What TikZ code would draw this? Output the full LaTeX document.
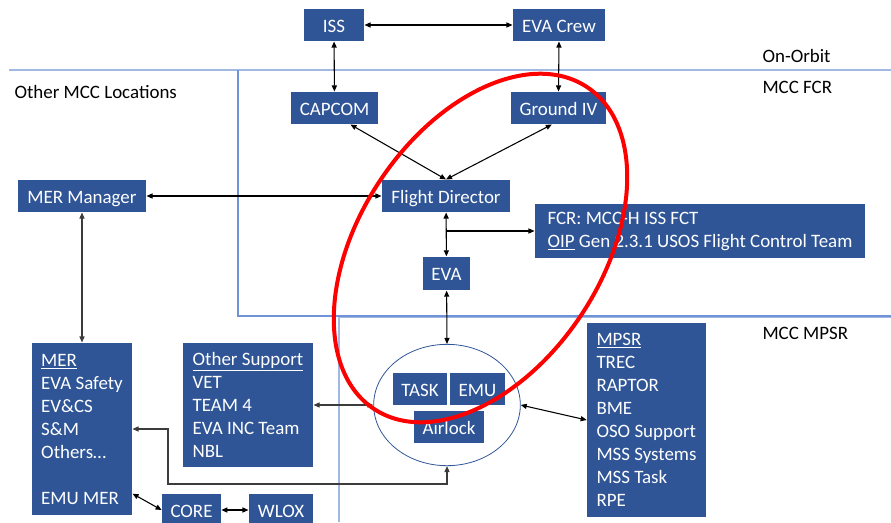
\documentclass[tikz,border=0pt]{standalone}
\usepackage{fontspec}
\setmainfont{Carlito}
\usepackage{tikz}
\usetikzlibrary{arrows.meta, positioning, shapes.geometric}
\definecolor{boxblue}{RGB}{47,85,151}
\definecolor{sepblue}{RGB}{160,184,226}
\definecolor{fcrblue}{RGB}{112,146,214}
\definecolor{lnkgray}{RGB}{60,60,60}
\tikzset{>={Triangle[length=4.5pt,width=3.8pt]}}
\tikzset{
  box/.style={fill=boxblue, text=white, inner sep=0pt, minimum height=24pt,
    text height=12pt, text depth=1pt, font=\fontsize{14.2}{17.25}\selectfont},
  listbox/.style={fill=boxblue, text=white, inner sep=0pt, align=left,
    font=\fontsize{14.2}{17.25}\selectfont},
  place/.style={anchor=west, inner sep=0pt, font=\fontsize{14.2}{17.25}\selectfont}
}

\begin{document}
\begin{tikzpicture}[x=0.75pt, y=-0.75pt, line width=0.8pt]
		\useasboundingbox (0,0) rectangle (891,522);
		% regions
		\draw[sepblue, line width=1.3pt] (9,70) -- (891,70);
		\draw[fcrblue, line width=0.8pt] (238,70) -- (238,316) -- (891,316);
		\draw[sepblue, line width=1.3pt] (339,522) -- (339,317.5) -- (891,317.5);
		\node[place] at (762,56) {On-Orbit};
		\node[place] at (762,87) {MCC FCR};
		\node[place] at (762,333) {MCC MPSR};
		\node[place] at (14,92) {Other MCC Locations};
		
		\node[box, minimum width=45pt] (ISS) at (334,25) {ISS};
		\node[box, minimum width=69pt] (Crew) at (559,25) {EVA Crew};
		\node[box, minimum width=65pt] (CAPCOM) at (334.5,108) {CAPCOM};
		\node[box, minimum width=71pt] (GIV) at (558.5,108) {Ground IV};
		\node[box, minimum width=96pt] (FD) at (446,196) {Flight Director};
		\node[box, minimum width=96pt] (MERM) at (82,196) {MER Manager};
		\node[listbox, minimum width=247.5pt, minimum height=40.5pt] (FCR) at (700,231)
			{FCR: MCC-H ISS FCT\\\underline{OIP} Gen 2.3.1 USOS Flight Control Team};
		\node[box, minimum width=35pt, minimum height=25pt] (EVA) at (446.5,273.5) {EVA};
		
		\node[draw=boxblue, ellipse, line width=0.6pt, inner sep=0pt,
			minimum width=110pt, minimum height=91pt] (Ops) at (447,405) {};
		\node[box, minimum width=40.5pt] (TASK) at (420,389) {TASK};
		\node[box, minimum width=41pt] (EMU) at (477.5,389) {EMU};
		\node[box, minimum width=52.5pt] (Airlock) at (449,427) {Airlock};
		
		\node[listbox, minimum width=89pt, minimum height=145.5pt] (MPSR) at (646.5,420)
			{\underline{MPSR}\\TREC\\RAPTOR\\BME\\OSO Support\\MSS Systems\\MSS Task\\RPE};
		\node[listbox, minimum width=97.5pt, minimum height=93pt] (Other) at (248,405)
			{\underline{Other Support}\\VET\\TEAM 4\\EVA INC Team\\NBL};
		\node[listbox, minimum width=75pt, minimum height=129pt] (MER) at (82,429)
			{\underline{MER}\\EVA Safety\\EV\&CS\\S\&M\\Others…\\[17.25pt]EMU MER};
		\node[box, minimum width=44pt] (CORE) at (191.5,510) {CORE};
		\node[box, minimum width=48pt] (WLOX) at (281,510) {WLOX};
		
		\draw[<->] (ISS) -- (Crew);
		\draw[<->] (ISS) -- (CAPCOM);
		\draw[<->] (Crew.south) -- (GIV.north);
		\draw[<->] (CAPCOM.-46) -- (FD.north);
		\draw[<->] (GIV.-112) -- (FD.north);
		\draw[<->] (MERM) -- (FD);
		\draw[<->] (FD) -- (EVA);
		\coordinate (Tap) at (FD.south |- FCR.west);
		\draw[->] (Tap) -- (FCR.west);
		\draw[<->] (EVA) -- (Ops.north);
		\draw[<->] (Ops.east) -- (MPSR.west);
		\draw[<->, lnkgray] (Other.east) -- (Ops.west);
		\draw[<->, lnkgray] (MERM) -- (MER);
		\coordinate (Bend) at (168,484);
		\draw[<->, lnkgray] (MER.east) -| (Bend) -| (Ops.south);
		\draw[<->] (MER.-52.9) -- (CORE.west);
		\draw[<->] (CORE) -- (WLOX);
		
		\draw[red, line width=3pt, rotate around={56.5:(480.5,248)}]
			(480.5,248) ellipse [x radius=193, y radius=121];
		\end{tikzpicture}
\end{document}
